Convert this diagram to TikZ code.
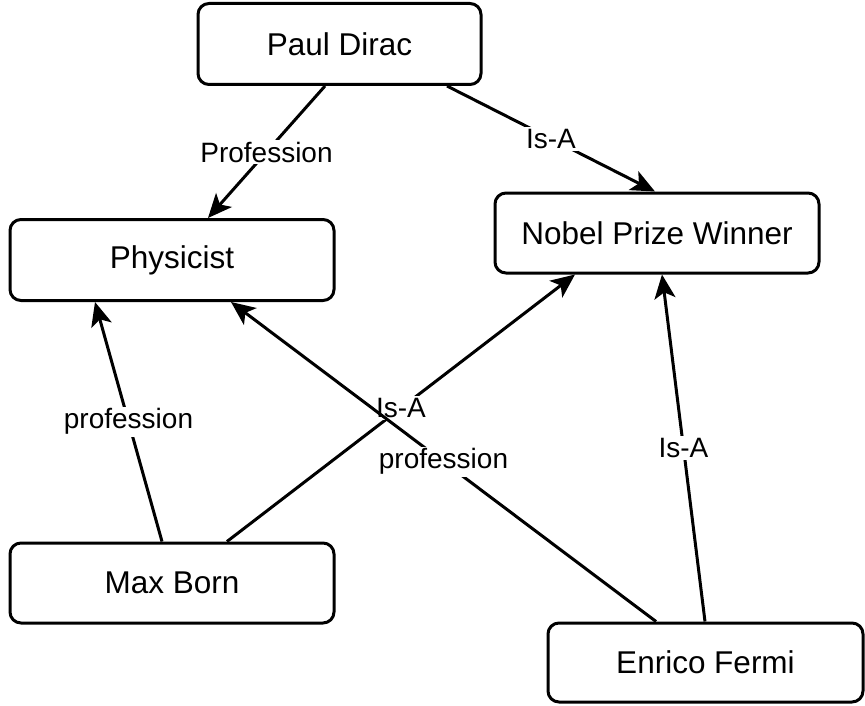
\documentclass[tikz,border=0pt]{standalone}
\usepackage{fontspec}
\setmainfont{Liberation Sans}
\usetikzlibrary{arrows.meta}

\tikzset{
  entity/.style={draw, line width=3pt, rounded corners=11pt, fill=white,
    minimum height=81pt, inner sep=0pt,
    font=\fontsize{31.5}{36}\selectfont},
  rel/.style={line width=3pt, -{Stealth[length=24pt,width=21pt,inset=6pt]}},
  tag/.style={fill=white, inner sep=2pt,
    font=\fontsize{28}{32}\selectfont},
}

\begin{document}
\begin{tikzpicture}[x=1pt, y=-1pt]
  \useasboundingbox (0,0) rectangle (865,706);

  % entities
  \node[entity, minimum width=283pt] (dirac) at (339.5,44) {Paul Dirac};
  \node[entity, minimum width=324pt] (phys)  at (172,260)  {Physicist};
  \node[entity, minimum width=324pt, minimum height=80pt] (nobel) at (657,233) {Nobel Prize Winner};
  \node[entity, minimum width=324pt, minimum height=80pt] (born)  at (172,583) {Max Born};
  \node[entity, minimum width=315pt, minimum height=79pt] (fermi) at (705.5,662.5) {Enrico Fermi};

  % Paul Dirac
  \draw[rel] ([xshift=-14.5pt]dirac.south) -- node[tag] {Profession} ([xshift=36pt]phys.north);
  \draw[rel] ([xshift=107.5pt]dirac.south) -- node[tag] {Is-A} ([xshift=-2pt]nobel.north);

  % Max Born
  \draw[rel] ([xshift=-10pt]born.north) -- node[tag] {profession} ([xshift=-77pt]phys.south);
  \draw[rel] ([xshift=55pt]born.north) -- node[tag] {Is-A} ([xshift=-82pt]nobel.south);

  % Enrico Fermi
  \draw[rel] ([xshift=-49.5pt]fermi.north) -- node[tag] {profession} ([xshift=59pt]phys.south);
  \draw[rel] ([xshift=-0.5pt]fermi.north) -- node[tag] {Is-A} ([xshift=5pt]nobel.south);
\end{tikzpicture}
\end{document}
